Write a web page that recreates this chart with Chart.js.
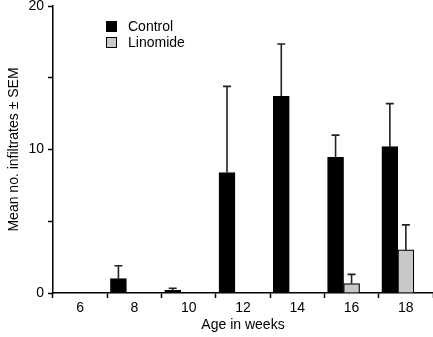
<!DOCTYPE html>
<html>
<head>
<meta charset="utf-8">
<script src="https://cdn.jsdelivr.net/npm/chart.js@4.4.0/dist/chart.umd.min.js"></script>
<style>
  html, body { margin: 0; padding: 0; background: #fff; }
  #wrap { width: 433px; height: 337px; }
</style>
</head>
<body>
<div id="wrap"><canvas id="myChart" width="433" height="337"></canvas></div>
<script>
// data
const ages = ["6", "8", "10", "12", "14", "16", "18"];
const controlMean = [0, 1.0, 0.2, 8.4, 13.7, 9.45, 10.2];
const controlSem = [0, 0.9, 0.13, 6.0, 3.65, 1.55, 3.0];
const linomideMean = [0, 0, 0, 0, 0, 0.65, 3.0];
const linomideSem = [0, 0, 0, 0, 0, 0.65, 1.75];
const yTicks = [0, 10, 20];

Chart.defaults.font.family = "'Liberation Sans', Arial, Helvetica, sans-serif";
Chart.defaults.font.size = 14;
Chart.defaults.color = "#000";

// draws the +SEM whiskers on top of bars
const errorBars = {
  id: "errorBars",
  afterDatasetsDraw(chart) {
    const ctx = chart.ctx;
    const y = chart.scales.y;
    const sems = [controlSem, linomideSem];
    const means = [controlMean, linomideMean];
    ctx.save();
    ctx.strokeStyle = "#222";
    ctx.lineWidth = 1.6;
    sems.forEach((sem, di) => {
      const meta = chart.getDatasetMeta(di);
      meta.data.forEach((bar, i) => {
        if (!sem[i]) return;
        const top = y.getPixelForValue(means[di][i] + sem[i]);
        ctx.beginPath();
        ctx.moveTo(bar.x, bar.y);
        ctx.lineTo(bar.x, top);
        ctx.moveTo(bar.x - 4, top);
        ctx.lineTo(bar.x + 4, top);
        ctx.stroke();
      });
    });
    ctx.restore();
  }
};

// legend box in upper left of plot
const boxLegend = {
  id: "boxLegend",
  afterDraw(chart) {
    const ctx = chart.ctx;
    const a = chart.chartArea;
    const items = [["Control", "#000"], ["Linomide", "#c8c8c8"]];
    ctx.save();
    ctx.font = "14px 'Liberation Sans', Arial, sans-serif";
    ctx.textBaseline = "middle";
    items.forEach((it, k) => {
      const x = a.left + 53, yy = a.top + 15 + k * 16;
      ctx.fillStyle = it[1];
      ctx.fillRect(x, yy, 11, 11);
      ctx.strokeStyle = "#000";
      ctx.lineWidth = 1;
      ctx.strokeRect(x + 0.5, yy + 0.5, 10, 10);
      ctx.fillStyle = "#000";
      ctx.fillText(it[0], x + 22, yy + 6);
    });
    ctx.restore();
  }
};

new Chart(document.getElementById("myChart"), {
  type: "bar",
  data: {
    labels: ages,
    datasets: [
      { label: "Control", data: controlMean, backgroundColor: "#000", borderColor: "#000", borderWidth: 1, borderSkipped: "bottom" },
      { label: "Linomide", data: linomideMean, backgroundColor: "#c8c8c8", borderColor: "#000", borderWidth: 1.2, borderSkipped: "bottom" },
      { label: "", data: ages.map(() => null) }
    ]
  },
  options: {
    responsive: false,
    animation: false,
    layout: { padding: 0 },
    datasets: { bar: { barThickness: 16 } },
    plugins: { legend: { display: false }, tooltip: { enabled: false } },
    scales: {
      x: {
        offset: true,
        afterFit(scale) { scale.height = 44; },
        grid: { offset: true, drawOnChartArea: false, tickLength: 5, tickColor: "#000", tickWidth: 1.5 },
        border: { color: "#000", width: 1.5 },
        ticks: { padding: 2, maxRotation: 0 },
        title: { display: true, text: "Age in weeks", padding: { top: 0, bottom: 3 } }
      },
      y: {
        min: 0,
        max: 20,
        afterFit(scale) { scale.width = 53; scale.paddingTop = 6; },
        grid: { drawOnChartArea: false, tickLength: 5, tickColor: "#000", tickWidth: 1.5 },
        border: { color: "#000", width: 1.5 },
        ticks: {
          stepSize: 5,
          padding: 4,
          callback: v => yTicks.includes(v) ? v : ""
        },
        title: { display: true, text: "Mean no. infiltrates ± SEM", padding: { top: 6, bottom: 2 } }
      }
    }
  },
  plugins: [errorBars, boxLegend]
});
</script>
</body>
</html>
